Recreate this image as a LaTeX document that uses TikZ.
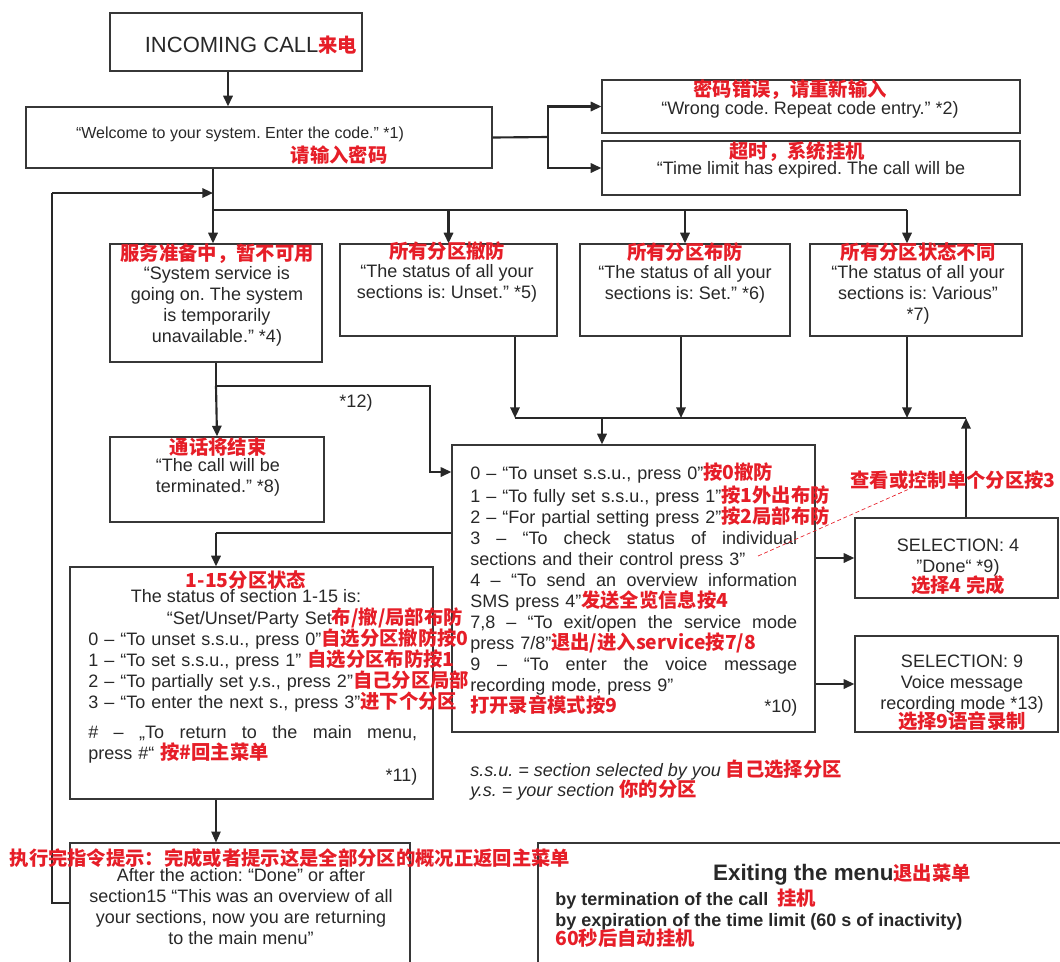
\documentclass[tikz,border=0pt]{standalone}
\usepackage{fontspec}
\setmainfont{Liberation Sans}
\newfontfamily\cjk{Noto Sans CJK SC}
\usetikzlibrary{arrows.meta,fit}

\definecolor{ink}{RGB}{40,40,40}
\definecolor{frame}{RGB}{55,55,55}
\definecolor{cnred}{RGB}{230,30,40}

\newcommand\body{\fontsize{13.5}{15.75}\selectfont}
\newcommand\cn[1]{{\cjk\bfseries\fontsize{14.5}{15.75}\selectfont\color{cnred}#1}}
\newcommand\lline[1]{\makebox[\linewidth][l]{#1}}
\newcommand\jline[1]{\makebox[\linewidth][s]{\spaceskip=0pt\xspaceskip=0pt\relax #1}}

\begin{document}
\frenchspacing
\begin{tikzpicture}[x=0.75pt, y=-0.75pt,
    box/.style={draw=frame, line width=0.9pt, inner sep=0pt},
    txt/.style={inner sep=0pt, text=ink, font=\body, align=center},
    wire/.style={draw=ink, line width=0.8pt},
    heavy/.style={draw=ink, line width=1.6pt},
    arr/.style={-{Triangle[length=8pt,width=7pt]}}]

        \useasboundingbox (0,0) rectangle (1060,961);

        % Boxes
        \node[box, fit={(110,13) (362,71)}] (call) {};
        \node[box, fit={(26,107) (492,168)}] (welcome) {};
        \node[box, fit={(602,80) (1020,133)}] (wrong) {};
        \node[box, fit={(602,141) (1020,195)}] (timeout) {};
        \node[box, fit={(110,244) (322,362)}] (service) {};
        \node[box, fit={(340,244) (557,336)}] (unset) {};
        \node[box, fit={(580,244) (790,336)}] (setall) {};
        \node[box, fit={(810,244) (1022,336)}] (various) {};
        \node[box, fit={(110,437) (324,522)}] (ended) {};
        \node[box, fit={(452,445) (815,732)}] (menu) {};
        \node[box, fit={(855,518) (1058,598)}] (sel4) {};
        \node[box, fit={(855,636) (1058,732)}] (sel9) {};
        \node[box, fit={(70,567) (433,799)}] (status) {};
        \node[box, fit={(70,843) (410,963)}] (after) {};
        \node[box, fit={(538,843) (1064,963)}] (exit) {};

        % Call and code entry
        \draw[heavy, arr] ([xshift=-6pt]call.south) -- ([xshift=-6pt]call.south |- welcome.north);
        \coordinate (codej) at (548,137);
        \draw[heavy] (welcome.east) -- (codej);
        \draw[heavy, arr] (codej) |- (wrong.west);
        \draw[heavy, arr] (codej) |- (timeout.west);

        % Bus to the four states
        \coordinate (bus) at (213,210);
        \coordinate (busend) at (907,210);
        \draw[wire] (welcome.south -| bus) -- (bus);
        \draw[wire] (bus) -- (busend);
        \draw[heavy, arr] (bus) -- (bus |- service.north);
        \draw[heavy, arr] (bus -| unset.north) -- (unset.north);
        \draw[heavy, arr] (bus -| setall.north) -- (setall.north);
        \draw[heavy, arr] (busend) -- (busend |- various.north);

        % Loop back to main menu
        \coordinate (backin) at (213,193);
        \coordinate (loopc) at (52,193);
        \draw[wire] (after.west) -| (loopc);
        \draw[heavy, arr] (loopc) -- (backin);

        % States into the menu
        \coordinate (mergeL) at (515,418);
        \coordinate (mergeR) at (966,418);
        \coordinate (menuin) at (602,418);
        \draw[wire] (mergeL) -- (mergeR);
        \draw[heavy, arr] (unset.south -| mergeL) -- (mergeL);
        \draw[heavy, arr] ([xshift=-3pt]setall.south) -- ([xshift=-3pt]setall.south |- mergeL);
        \draw[heavy, arr] (busend |- various.south) -- (busend |- mergeL);
        \draw[heavy, arr] (menuin) -- (menuin |- menu.north);
        \draw[heavy, arr] (sel4.north -| mergeR) -- (mergeR);

        % Service mode branch
        \coordinate (svcj) at (216,386);
        \coordinate (kink) at (430,386);
        \draw[wire] (service.south) -- (svcj);
        \draw[heavy, arr] (svcj) -- (ended.north);
        \draw[heavy, arr] (svcj) -- (kink) |- (menu.west |- 0,472);

        % Menu to sections and selections
        \coordinate (stj) at (216,533);
        \draw[wire] (menu.west |- stj) -- (stj);
        \draw[heavy, arr] (stj) -- (stj |- status.north);
        \draw[wire, arr] (status.south -| stj) -- (stj |- after.north);
        \draw[heavy, arr] (menu.east |- sel4.west) -- (sel4.west);
        \draw[heavy, arr] (menu.east |- sel9.west) -- (sel9.west);

        % Texts
        \node[txt, font=\fontsize{16.5}{18}\selectfont] (callT) at (251,45) {INCOMING CALL\cn{来电}};
        \node[txt, font=\fontsize{12}{14}\selectfont] (welT) at (240,134) {“Welcome to your system. Enter the code.” *1)};
        \node[txt] (welR) at (339,155) {\cn{请输入密码}};
        \node[txt] (wrongR) at (790,90) {\cn{密码错误，请重新输入}};
        \node[txt] (wrongT) at (810,110) {“Wrong code. Repeat code entry.” *2)};
        \node[txt] (timeR) at (797,152) {\cn{超时，系统挂机}};
        \node[txt] (timeT) at (811,170) {“Time limit has expired. The call will be};

        \node[txt] (serviceT) at (217,295) {\cn{服务准备中，暂不可用}\\[-1.5pt] “System service is\\ going on. The system\\ is temporarily\\ unavailable.” *4)};
        \node[txt] (unsetT) at (447,272) {\cn{所有分区撤防}\\[-1.5pt] “The status of all your\\ sections is: Unset.” *5)};
        \node[txt] (setallT) at (685,273) {\cn{所有分区布防}\\[-1.5pt] “The status of all your\\ sections is: Set.” *6)};
        \node[txt] (variousT) at (918,283) {\cn{所有分区状态不同}\\[-1.5pt] “The status of all your\\ sections is: Various”\\ *7)};
        \node[txt] (endedT) at (218,467) {\cn{通话将结束}\\[-2.5pt] “The call will be\\ terminated.” *8)};
        \node[txt] (n12) at (356,403) {*12)};

        \node[txt, align=left, text width=245.25pt, anchor=north west] (menuT) at (470,462) {%
          \lline{0 – “To unset s.s.u., press 0”\cn{按0撤防}}\\[2pt]
          \lline{1 – “To fully set s.s.u., press 1”\cn{按1外出布防}}\\
          \lline{2 – “For partial setting press 2”\cn{按2局部布防}}\\
          \jline{3 – “To check status of individual}\\
          \lline{sections and their control press 3”}\\
          \jline{4 – “To send an overview information}\\
          \lline{SMS press 4”\cn{发送全览信息按4}}\\
          \jline{7,8 – “To exit/open the service mode}\\
          \lline{press 7/8”\cn{退出/进入service按7/8}}\\
          \jline{9 – “To enter the voice message}\\
          \lline{recording mode, press 9”}\\
          \makebox[\linewidth]{\cn{打开录音模式按9}\hfill *10)}};

        \node[txt] (statusH) at (246,587) {\cn{1-15分区状态}\\[-4.5pt] The status of section 1-15 is:};
        \node[txt, align=left, text width=246.75pt, anchor=north west] (statusB) at (88,607) {%
          \lline{\hspace*{59pt}“Set/Unset/Party Set\cn{布/撤/局部布防}}\\
          \lline{0 – “To unset s.s.u., press 0”\cn{自选分区撤防按0}}\\
          \lline{1 – “To set s.s.u., press 1” \cn{自选分区布防按1}}\\
          \lline{2 – “To partially set y.s., press 2”\cn{自己分区局部}}\\
          \lline{3 – “To enter the next s., press 3”\cn{进下个分区}}\\[7pt]
          \jline{\# – „To return to the main menu,}\\
          \lline{press \#“ \cn{按\#回主菜单}}\\[1pt]
          \makebox[\linewidth]{\hfill *11)}};

        \node[txt] (sel4T) at (958,567) {SELECTION: 4\\ "Done“ *9)\\[-1pt] \cn{选择4 完成}};
        \node[txt] (sel9T) at (962,693) {SELECTION: 9\\ Voice message\\ recording mode *13)\\[-1.5pt] \cn{选择9语音录制}};

        \node[txt] (note3) at (953,480) {\cn{查看或控制单个分区按3}};
        \coordinate (p3) at (758,556);
        \draw[cnred, line width=0.5pt, densely dashed] (p3) -- ([xshift=-34pt]note3.south);

        \node[txt, anchor=west] (ssu) at (470,770) {\textit{s.s.u. = section selected by you} \cn{自己选择分区}};
        \node[txt, anchor=west] (ys) at (470,790) {\textit{y.s. = your section} \cn{你的分区}};

        \node[txt] (afterR) at (290,858) {\cn{执行完指令提示：完成或者提示这是全部分区的概况正返回主菜单}};
        \node[txt] (afterT) at (241,907) {After the action: “Done” or after\\ section15 “This was an overview of all\\ your sections, now you are returning\\ to the main menu”};

        \node[txt] (exitH) at (842,875) {\textbf{\fontsize{16.8}{18}\selectfont Exiting the menu}\cn{退出菜单}};
        \node[txt, align=left, anchor=west] (exitT) at (555,918) {\textbf{by termination of the call}\enspace\cn{挂机}\\ \textbf{by expiration of the time limit (60 s of inactivity)}\\[-1pt] \cn{60秒后自动挂机}};

      \end{tikzpicture}
\end{document}
